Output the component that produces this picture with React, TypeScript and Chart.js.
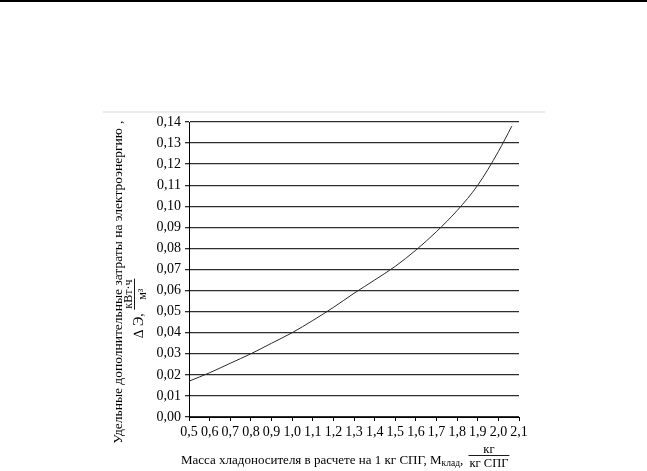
import { useEffect, useRef } from "react";
import { Chart, registerables, type Plugin } from "chart.js";

Chart.register(...registerables);

// значения
const massValues = [0.5, 0.6, 0.7, 0.8, 0.9, 1.0, 1.1, 1.2, 1.3, 1.4, 1.5, 1.6, 1.7, 1.8, 1.9, 2.0, 2.065];
const energyValues = [
  0.017, 0.021, 0.0255, 0.03, 0.035, 0.04, 0.0458, 0.052, 0.0587, 0.065, 0.0715, 0.0792, 0.088, 0.098, 0.11,
  0.126, 0.138,
];

const xMin = 0.5;
const xMax = 2.1;
const xStep = 0.1;
const yMin = 0;
const yMax = 0.14;
const yStep = 0.01;

const yTitle = "Удельные дополнительные затраты на электроэнергию";
const yUnitPrefix = "∆ Э, ";
const yUnitNum = "кВт·ч";
const yUnitDen = "м³";

const xTitle = "Масса хладоносителя в расчете на 1 кг СПГ, ";
const xSymbol = "M";
const xSymbolSub = "клад";
const xUnitNum = "кг";
const xUnitDen = "кг СПГ";

const SERIF = "'Liberation Serif', 'Times New Roman', serif";

const fmt = (v: number, d: number) => v.toFixed(d).replace(".", ",");

// дробь: числитель над чертой, знаменатель под ней; возвращает ширину
function drawFraction(ctx: CanvasRenderingContext2D, x: number, base: number, num: string, den: string, size: number) {
  ctx.font = `${size}px ${SERIF}`;
  const wn = ctx.measureText(num).width;
  const wd = ctx.measureText(den).width;
  const w = Math.max(wn, wd) + 2;
  ctx.fillText(num, x + (w - wn) / 2, base - 11);
  ctx.fillText(den, x + (w - wd) / 2, base + 3);
  ctx.fillRect(x, base - 9, w, 0.9);
  return w;
}

const titlesPlugin: Plugin = {
  id: "axisTitles",
  beforeDraw(chart) {
    const ctx = chart.ctx;
    ctx.save();
    ctx.fillStyle = "#000";
    ctx.fillRect(0, 0, chart.width, 2);
    ctx.fillStyle = "#dcdcdc";
    ctx.fillRect(103, 111.5, 442, 1);
    ctx.restore();
  },
  afterDraw(chart) {
    const ctx = chart.ctx;
    ctx.save();
    ctx.fillStyle = "#000";
    ctx.textBaseline = "alphabetic";
    ctx.textAlign = "left";

    // подпись оси X
    let x = 181;
    const base = 464;
    ctx.font = `13px ${SERIF}`;
    ctx.fillText(xTitle, x, base);
    x += ctx.measureText(xTitle).width;
    ctx.fillText(xSymbol, x, base);
    x += ctx.measureText(xSymbol).width;
    ctx.font = `9.5px ${SERIF}`;
    ctx.fillText(xSymbolSub, x, base + 2);
    x += ctx.measureText(xSymbolSub).width;
    ctx.font = `13px ${SERIF}`;
    ctx.fillText(", ", x, base);
    x += ctx.measureText(", ").width + 2;
    drawFraction(ctx, x, base, xUnitNum, xUnitDen, 12.5);

    // подпись оси Y, повернутая
    ctx.font = `13.5px ${SERIF}`;
    const w1 = ctx.measureText(yTitle).width;
    ctx.save();
    ctx.translate(122, 286 + w1 / 2);
    ctx.rotate(-Math.PI / 2);
    ctx.fillText(yTitle, 0, 0);
    ctx.restore();

    ctx.save();
    ctx.translate(122, 124);
    ctx.rotate(-Math.PI / 2);
    ctx.fillText(",", 0, 0);
    ctx.restore();

    ctx.save();
    ctx.translate(143, 338);
    ctx.rotate(-Math.PI / 2);
    ctx.font = `14px ${SERIF}`;
    ctx.fillText(yUnitPrefix, 0, 0);
    const wp = ctx.measureText(yUnitPrefix).width;
    drawFraction(ctx, wp, 0, yUnitNum, yUnitDen, 12);
    ctx.restore();

    ctx.restore();
  },
};

export default function App() {
  const chartRef = useRef<HTMLCanvasElement | null>(null);
  const chartInstance = useRef<Chart | null>(null);

  useEffect(() => {
    if (!chartRef.current) return;
    const ctx = chartRef.current.getContext("2d");
    if (!ctx) return;
    if (chartInstance.current) chartInstance.current.destroy();

    chartInstance.current = new Chart(ctx, {
      type: "line",
      data: {
        datasets: [
          {
            data: massValues.map((m, i) => ({ x: m, y: energyValues[i] })),
            borderColor: "#2a2a2a",
            borderWidth: 1,
            pointRadius: 0,
            cubicInterpolationMode: "monotone",
            fill: false,
          },
        ],
      },
      options: {
        animation: false,
        responsive: true,
        maintainAspectRatio: false,
        layout: { padding: { left: 0, top: 122, right: 128, bottom: 0 } },
        plugins: { legend: { display: false }, tooltip: { enabled: false } },
        scales: {
          x: {
            type: "linear",
            min: xMin,
            max: xMax,
            afterFit: (s) => {
              s.height = 54;
            },
            ticks: {
              stepSize: xStep,
              autoSkip: false,
              maxRotation: 0,
              padding: 3,
              color: "#000",
              font: { family: SERIF, size: 14 },
              callback: (v) => fmt(Number(v), 1),
            },
            grid: { drawOnChartArea: false, drawTicks: true, tickLength: 4, color: "#000" },
            border: { display: true, color: "#000", width: 1 },
          },
          y: {
            min: yMin,
            max: yMax,
            afterFit: (s) => {
              s.width = 189;
            },
            ticks: {
              stepSize: yStep,
              autoSkip: false,
              padding: 4,
              color: "#000",
              font: { family: SERIF, size: 14 },
              callback: (v) => fmt(Number(v), 2),
            },
            grid: { color: "#2e2e2e", lineWidth: 1.3, drawTicks: true, tickLength: 4 },
            border: { display: true, color: "#000", width: 1 },
          },
        },
      },
      plugins: [titlesPlugin],
    });

    return () => {
      chartInstance.current?.destroy();
      chartInstance.current = null;
    };
  }, []);

  return (
    <div style={{ position: "absolute", left: 0, top: 0, width: 647, height: 471 }}>
      <canvas ref={chartRef}></canvas>
    </div>
  );
}
